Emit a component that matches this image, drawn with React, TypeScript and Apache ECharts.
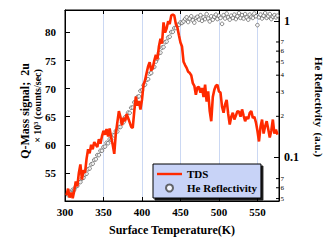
import React, { useEffect, useRef } from 'react';
import * as echarts from 'echarts';

const TDS_TEMP = [
  302, 304, 306, 308, 310, 312, 314, 316, 318, 320, 322, 324, 326, 328, 330, 332, 334, 336, 338, 340,
  342, 344, 346, 348, 350, 352, 354, 356, 358, 360, 362, 364, 366, 368, 370, 372, 374, 376, 378, 380,
  382, 384, 386, 388, 390, 392, 394, 396, 398, 400, 402, 404, 406, 408, 410, 412, 414, 416, 418, 420,
  422, 424, 426, 428, 430, 432, 434, 436, 438, 440, 442, 444, 446, 448, 450, 452, 454, 456, 458, 460,
  462, 464, 466, 468, 470, 472, 474, 476, 478, 480, 482, 484, 486, 488, 490, 492, 494, 496, 498, 500,
  502, 504, 506, 508, 510, 512, 514, 516, 518, 520, 522, 524, 526, 528, 530, 532, 534, 536, 538, 540,
  542, 544, 546, 548, 550, 552, 554, 556, 558, 560, 562, 564, 566, 568, 570, 572, 574, 576,
];
const TDS_SIGNAL = [
  51.0, 52.2, 50.6, 51.5, 50.5, 51.8, 53.5, 52.6, 55.0, 56.5, 53.8, 55.5, 55.0, 57.5, 59.2, 58.5, 60.0, 59.2, 60.5, 60.0,
  59.6, 61.0, 60.2, 61.5, 62.5, 61.8, 62.8, 61.5, 62.9, 61.2, 60.0, 58.4, 62.0, 64.0, 66.0, 65.0, 63.5, 64.8, 64.2, 65.5,
  64.8, 64.0, 63.2, 63.0, 66.0, 68.6, 67.0, 67.8, 66.3, 68.0, 70.7, 71.5, 72.8, 74.0, 74.7, 73.2, 73.7, 75.0, 76.0, 75.2,
  77.5, 78.9, 78.0, 81.8, 80.0, 80.7, 82.0, 81.5, 83.0, 83.2, 83.0, 81.5, 80.9, 79.5, 78.2, 77.5, 74.8, 74.2, 73.7, 73.0,
  72.8, 72.4, 71.0, 70.5, 68.9, 70.2, 70.3, 69.3, 70.1, 68.5, 70.7, 67.7, 69.5, 66.0, 64.2, 68.5, 69.8, 70.5, 70.7, 69.5,
  69.3, 66.8, 65.7, 67.2, 68.0, 65.5, 63.6, 65.0, 65.7, 64.5, 65.2, 66.0, 65.9, 65.0, 66.3, 65.2, 64.2, 65.0, 64.6, 65.7,
  66.0, 64.8, 65.0, 64.0, 62.5, 60.6, 63.2, 64.5, 62.0, 63.3, 64.2, 62.8, 61.3, 62.5, 64.5, 62.0, 62.7, 61.8,
];

const HE_TEMP = [
  304, 306, 308, 310, 312, 314, 316, 318, 320, 322, 324, 326, 328, 330, 332, 334, 336, 338, 340, 342,
  344, 346, 348, 350, 352, 354, 356, 358, 360, 362, 364, 366, 368, 370, 372, 374, 376, 378, 380, 382,
  384, 386, 388, 390, 392, 394, 396, 398, 400, 402, 404, 406, 408, 410, 412, 414, 416, 418, 420, 422,
  424, 426, 428, 430, 432, 434, 436, 438, 440, 442, 444, 446, 448, 450, 452, 454, 456, 458, 460, 462,
  464, 466, 468, 470, 472, 474, 476, 478, 480, 482, 484, 486, 488, 490, 492, 494, 496, 498, 500, 502,
  504, 506, 508, 510, 512, 514, 516, 518, 520, 522, 524, 526, 528, 530, 532, 534, 536, 538, 540, 542,
  544, 546, 548, 550, 552, 554, 556, 558, 560, 562, 564, 566, 568, 570, 572, 574, 576,
];
const HE_REFL = [
  0.053, 0.056, 0.055, 0.058, 0.058, 0.061, 0.062, 0.066, 0.066, 0.070, 0.071, 0.075, 0.076, 0.082, 0.083, 0.089, 0.090, 0.096, 0.097, 0.104,
  0.104, 0.112, 0.112, 0.119, 0.120, 0.128, 0.127, 0.136, 0.135, 0.146, 0.145, 0.156, 0.155, 0.167, 0.167, 0.181, 0.181, 0.197, 0.196, 0.213,
  0.212, 0.231, 0.232, 0.253, 0.255, 0.277, 0.280, 0.307, 0.311, 0.337, 0.341, 0.370, 0.374, 0.410, 0.415, 0.455, 0.460, 0.503, 0.528, 0.580,
  0.585, 0.636, 0.642, 0.697, 0.705, 0.755, 0.765, 0.828, 0.830, 0.885, 0.885, 0.935, 0.935, 0.972, 0.965,
  0.99, 1.03, 1.06, 0.98, 1.04, 1.08, 1.01, 0.97, 1.05, 1.07,
  1.02, 1.10, 1.00, 1.06, 1.03, 1.12, 1.04, 0.99, 1.08, 1.02,
  1.07, 1.11, 1.03, 1.09, 1.05, 0.95, 1.10, 1.04, 1.13, 1.06,
  1.02, 1.09, 1.05, 1.11, 1.03, 1.08, 1.14, 1.05, 1.10, 1.04,
  1.12, 1.06, 1.02, 1.11, 1.07, 1.05, 1.13, 1.08, 0.93, 1.06,
  1.11, 1.04, 1.09, 1.14, 1.05, 1.08, 1.12, 1.03, 1.07, 1.10,
  1.06, 1.09,
];

const RIGHT_MINOR_VALUES = [0.7, 0.6, 0.5, 0.4, 0.3, 0.2, 0.07, 0.06, 0.05];
const RIGHT_MINOR_LABELS = ['7', '6', '5', '4', '3', '2', '7', '6', '5'];
const RIGHT_MAJOR_LABELS: Record<string, string> = { '1': '1', '0.1': '0.1' };

const FONT = '"Liberation Serif", "DejaVu Serif", serif';
const LINE_ICON = 'path://M0,0 M0,2.3 L25,2.3 L25,4.7 L0,4.7 Z M25,7';

export default function App() {
  const ref = useRef<HTMLDivElement>(null);

  useEffect(() => {
    document.body.style.margin = '0';
    if (!ref.current) return;
    const chart = echarts.init(ref.current, null, { renderer: 'svg' });

    const axisLabelStyle = {
      color: '#000',
      fontFamily: FONT,
      fontWeight: 'bold' as const,
    };

    chart.setOption({
      animation: false,
      backgroundColor: '#fff',
      grid: {
        left: 65,
        right: 47,
        top: 10,
        bottom: 38,
        show: true,
        borderColor: '#000',
        borderWidth: 1,
        backgroundColor: 'transparent',
      },
      xAxis: [
        {
          type: 'value',
          min: 300,
          max: 578,
          interval: 50,
          axisLine: { show: true, lineStyle: { color: '#000', width: 1 } },
          axisTick: { show: true, inside: true, length: 4, lineStyle: { color: '#000' } },
          axisLabel: { ...axisLabelStyle, fontSize: 11, margin: 5, showMaxLabel: false },
          splitLine: { show: true, lineStyle: { color: '#cbd8f3', width: 1 } },
          name: 'Surface Temperature(K)',
          nameLocation: 'middle',
          nameGap: 23,
          nameTextStyle: { ...axisLabelStyle, fontSize: 12 },
        },
        {
          type: 'value',
          position: 'top',
          min: 300,
          max: 578,
          interval: 50,
          axisLine: { show: true, lineStyle: { color: '#000', width: 1 } },
          axisTick: { show: true, inside: true, length: 4, lineStyle: { color: '#000' } },
          axisLabel: { show: false },
          splitLine: { show: false },
        },
      ],
      yAxis: [
        {
          type: 'value',
          position: 'left',
          min: 50,
          max: 84,
          interval: 5,
          axisLine: { show: true, lineStyle: { color: '#000', width: 1 } },
          axisTick: { show: true, inside: true, length: 5, lineStyle: { color: '#000' } },
          axisLabel: { ...axisLabelStyle, fontSize: 11, margin: 9, showMinLabel: false, showMaxLabel: false },
          splitLine: { show: false },
        },
        {
          type: 'log',
          logBase: 10,
          position: 'right',
          min: 0.048,
          max: 1.2,
          axisLine: { show: true, lineStyle: { color: '#000', width: 1 } },
          axisTick: { show: true, inside: true, length: 5, lineStyle: { color: '#000' } },
          axisLabel: {
            ...axisLabelStyle,
            fontSize: 12,
            margin: 5,
            showMinLabel: false,
            showMaxLabel: false,
            formatter: (v: number) => {
              if (Math.abs(v - 1) < 1e-6) return RIGHT_MAJOR_LABELS['1'];
              if (Math.abs(v - 0.1) < 1e-7) return RIGHT_MAJOR_LABELS['0.1'];
              return '';
            },
          },
          splitLine: { show: false },
        },
      ],
      legend: {
        orient: 'vertical',
        left: 153,
        top: 164,
        padding: [3, 4, 3, 4],
        itemGap: 0,
        itemWidth: 25,
        itemHeight: 7,
        backgroundColor: '#c8d3f7',
        borderColor: '#000',
        borderWidth: 1,
        shadowColor: 'rgba(0,0,0,0.9)',
        shadowOffsetX: 2,
        shadowOffsetY: 2,
        shadowBlur: 1,
        selectedMode: false,
        textStyle: { ...axisLabelStyle, fontSize: 11, lineHeight: 14 },
        data: [{ name: 'TDS', icon: LINE_ICON }, { name: 'He Reflectivity' }],
      },
      series: [
        {
          name: 'He Reflectivity',
          type: 'scatter',
          xAxisIndex: 0,
          yAxisIndex: 1,
          data: HE_TEMP.map((t, i) => [t, HE_REFL[i]]),
          symbol: 'circle',
          symbolSize: 3.6,
          itemStyle: { color: '#fff', borderColor: '#444', borderWidth: 0.8 },
        },
        {
          name: 'TDS',
          type: 'line',
          xAxisIndex: 0,
          yAxisIndex: 0,
          data: TDS_TEMP.map((t, i) => [t, TDS_SIGNAL[i]]),
          symbol: 'none',
          lineStyle: { color: '#ff2a00', width: 2.6 },
          itemStyle: { color: '#ff2a00' },
        },
      ],
    });

    const axX = chart.convertToPixel({ xAxisIndex: 0 }, 578) as number;
    const minor: any[] = [];
    RIGHT_MINOR_VALUES.forEach((v, i) => {
      const y = chart.convertToPixel({ yAxisIndex: 1 }, v) as number;
      minor.push({
        type: 'line',
        shape: { x1: axX - 3, y1: y, x2: axX, y2: y },
        style: { stroke: '#000', lineWidth: 1 },
        silent: true,
      });
      minor.push({
        type: 'text',
        x: axX + 1.5,
        y: y,
        style: {
          text: RIGHT_MINOR_LABELS[i],
          fill: '#000',
          fontFamily: FONT,
          fontSize: 7,
          align: 'left',
          verticalAlign: 'middle',
        },
        silent: true,
      });
    });

    chart.setOption({
      graphic: [
        {
          type: 'text',
          x: 25,
          y: 111,
          rotation: Math.PI / 2,
          style: {
            text: 'Q-Mass signal;  2u',
            fill: '#000',
            fontFamily: FONT,
            fontWeight: 'bold',
            fontSize: 12,
            align: 'center',
            verticalAlign: 'middle',
          },
        },
        {
          type: 'text',
          x: 37,
          y: 106,
          rotation: Math.PI / 2,
          style: {
            text: '× 10³ (counts/sec)',
            fill: '#000',
            fontFamily: FONT,
            fontWeight: 'bold',
            fontSize: 10,
            align: 'center',
            verticalAlign: 'middle',
          },
        },
        {
          type: 'text',
          x: 319,
          y: 107,
          rotation: -Math.PI / 2,
          style: {
            text: 'He Reflectivity  (a.u.)',
            fill: '#000',
            fontFamily: FONT,
            fontWeight: 'bold',
            fontSize: 11,
            align: 'center',
            verticalAlign: 'middle',
          },
        },
        ...minor,
      ],
    });

    return () => chart.dispose();
  }, []);

  return (
    <div
      ref={ref}
      style={{ width: 326, height: 241, position: 'absolute', left: 0, top: 0 }}
    />
  );
}
